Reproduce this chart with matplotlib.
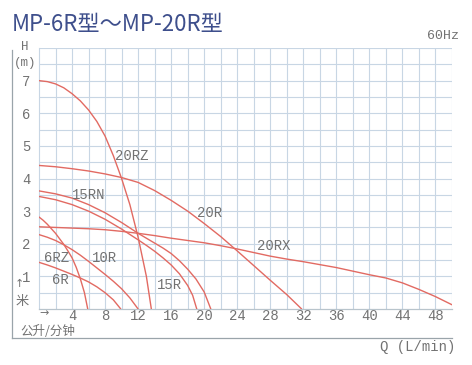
import matplotlib
matplotlib.use("Agg")
import matplotlib.pyplot as plt

# ---- data (Q in L/min, H in m) ----
q_20rz = [0, 1, 2, 3, 4, 5, 6, 7, 8, 9, 10, 11, 12, 13, 13.6]
h_20rz = [7.0, 6.97, 6.9, 6.78, 6.6, 6.38, 6.1, 5.75, 5.3, 4.7, 4.0, 3.2, 2.2, 1.0, 0.0]

q_20r = [0, 2, 4, 6, 8, 10, 12, 14, 16, 18, 20, 22, 24, 26, 28, 30, 31.8]
h_20r = [4.4, 4.36, 4.3, 4.23, 4.14, 4.03, 3.88, 3.63, 3.33, 3.0, 2.62, 2.22, 1.78, 1.33, 0.88, 0.44, 0.0]

q_20rx = [0, 2, 4, 6, 8, 10, 12, 14, 16, 18, 20, 22, 24, 26, 28, 30, 32, 34, 36, 38, 40, 42, 44, 46, 48, 50]
h_20rx = [2.52, 2.5, 2.48, 2.46, 2.43, 2.38, 2.32, 2.25, 2.17, 2.1, 2.03, 1.94, 1.84, 1.73, 1.62,
          1.53, 1.45, 1.36, 1.27, 1.16, 1.05, 0.95, 0.8, 0.6, 0.38, 0.13]

q_15rn = [0, 2, 4, 6, 8, 10, 12, 14, 15, 16, 17, 18, 19, 20, 20.8]
h_15rn = [3.62, 3.53, 3.4, 3.2, 2.95, 2.65, 2.32, 2.02, 1.87, 1.7, 1.48, 1.22, 0.92, 0.52, 0.0]

q_15r = [0, 2, 4, 6, 8, 10, 12, 13, 14, 15, 16, 17, 18, 18.6, 19.1]
h_15r = [3.45, 3.35, 3.2, 3.0, 2.75, 2.45, 2.12, 1.95, 1.77, 1.57, 1.35, 1.08, 0.72, 0.42, 0.0]

q_10r = [0, 1, 2, 3, 4, 5, 6, 7, 8, 9, 10, 11, 12]
h_10r = [2.28, 2.2, 2.1, 1.97, 1.82, 1.65, 1.46, 1.26, 1.06, 0.85, 0.62, 0.34, 0.0]

q_6rz = [0, 0.5, 1, 1.5, 2, 2.5, 3, 3.5, 4, 4.5, 5, 5.5, 5.9]
h_6rz = [2.82, 2.72, 2.6, 2.46, 2.32, 2.15, 1.98, 1.78, 1.57, 1.28, 0.93, 0.5, 0.0]

q_6r = [0, 1, 2, 3, 4, 5, 6, 7, 8, 9, 9.9]
h_6r = [1.43, 1.35, 1.26, 1.16, 1.06, 0.95, 0.83, 0.68, 0.5, 0.28, 0.0]

x_ticks = [4, 8, 12, 16, 20, 24, 28, 32, 36, 40, 44, 48]
y_ticks = [1, 2, 3, 4, 5, 6, 7]

curves = [(q_20rz, h_20rz), (q_20r, h_20r), (q_20rx, h_20rx), (q_15rn, h_15rn),
          (q_15r, h_15r), (q_10r, h_10r), (q_6rz, h_6rz), (q_6r, h_6r)]
labels = [("20RZ", 9.2, 4.7), ("15RN", 4.0, 3.5), ("20R", 19.1, 2.94),
          ("20RX", 26.4, 1.93), ("6RZ", 0.6, 1.56), ("10R", 6.4, 1.56),
          ("6R", 1.6, 0.89), ("15R", 14.3, 0.74)]

W, H = 472, 365
fig = plt.figure(figsize=(W / 100, H / 100), dpi=100)
fig.patch.set_facecolor("white")

def fx(x):
    return x / W

def fy(y):
    return 1 - y / H

L, R, T, B = 39, 452, 48, 309
ax = fig.add_axes([fx(L), fy(B), fx(R) - fx(L), fy(T) - fy(B)])
ax.set_xlim(0, 50)
ax.set_ylim(0, 8)
ax.set_facecolor("white")

gridc = "#c8d6e4"
for xv in range(2, 51, 2):
    ax.axvline(xv, color=gridc, lw=0.8, zorder=1)
for i in range(1, 17):
    ax.axhline(i * 0.5, color=gridc, lw=0.8, zorder=1)

for s in ["top", "right"]:
    ax.spines[s].set_visible(False)
ax.spines["left"].set_color(gridc)
ax.spines["bottom"].set_color("#b8c4cc")
ax.spines["left"].set_linewidth(0.8)
ax.spines["bottom"].set_linewidth(0.9)

curvec = "#e26a62"
for q, h in curves:
    ax.plot(q, h, color=curvec, lw=1.0, zorder=3, solid_capstyle="round", solid_joinstyle="round")

txtc = "#727272"
mono = ["Liberation Mono", "DejaVu Sans Mono"]
for name, xq, yh in labels:
    ax.text(xq, yh, name, color=txtc, fontsize=10, family=mono, ha="left", va="center", zorder=4)

ax.set_xticks(x_ticks)
ax.set_xticklabels([str(v) for v in x_ticks], family=mono, color=txtc, fontsize=10)
ax.set_yticks(y_ticks)
ax.set_yticklabels([str(v) for v in y_ticks], family=mono, color=txtc, fontsize=10)
ax.tick_params(axis="x", length=0, pad=0)
ax.tick_params(axis="y", length=0, pad=6)

# frame lines of the sheet
fig.add_artist(plt.Line2D([fx(12), fx(12)], [fy(50), fy(338)], color="#9aa4aa", lw=0.9))
fig.add_artist(plt.Line2D([fx(12), fx(452)], [fy(338), fy(338)], color="#9aa4aa", lw=0.9))

cjk = ["Noto Sans CJK SC", "DejaVu Sans"]
fig.text(fx(12), fy(25), "MP-6R型～MP-20R型", family=cjk, fontsize=16, color="#3e4f8c",
         ha="left", va="center")
fig.text(fx(459), fy(36), "60Hz", family=mono, fontsize=9.5, color=txtc, ha="right", va="center")
fig.text(fx(25), fy(47), "H", family=mono, fontsize=9, color=txtc, ha="center", va="center")
fig.text(fx(25), fy(63), "(m)", family=mono, fontsize=9, color=txtc, ha="center", va="center")
fig.text(fx(19), fy(284), "↑", family=["DejaVu Sans"], fontsize=8, color=txtc, ha="center", va="center")
fig.text(fx(22), fy(301), "米", family=cjk, fontsize=9.5, color=txtc, ha="center", va="center")
fig.text(fx(44), fy(313), "→", family=["DejaVu Sans"], fontsize=8, color=txtc, ha="center", va="center")
fig.text(fx(20), fy(331), "公升/分钟", family=cjk, fontsize=9, color=txtc, ha="left", va="center")
fig.text(fx(455), fy(347), "Q (L/min)", family=mono, fontsize=10, color=txtc, ha="right", va="center")

fig.savefig("out.png", dpi=100, facecolor="white")
